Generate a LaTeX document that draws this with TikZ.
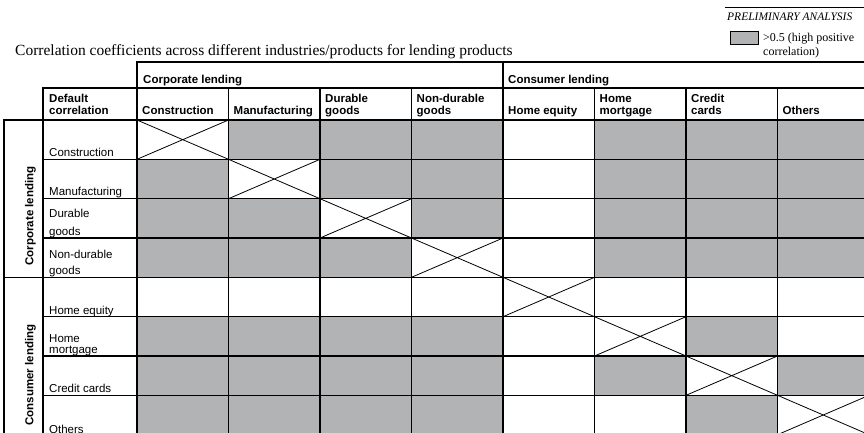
\documentclass[tikz,border=0pt]{standalone}
\usepackage{fontspec}
\setmainfont{Liberation Serif}
\setsansfont{Liberation Sans}
\definecolor{cellgray}{RGB}{178,179,181}

\begin{document}
\begin{tikzpicture}[x=1pt,y=1pt,
  hd/.style={font=\sffamily\bfseries\fontsize{11.5}{13}\selectfont},
  lb/.style={font=\sffamily\fontsize{11.5}{13}\selectfont},
  rule/.style={black, line width=1.4pt, line cap=rect},
  cross/.style={black, line width=0.8pt}]
\tikzstyle{every node}+=[inner sep=0pt, anchor=base west]
\clip (0,0) rectangle (864,-432);
\fill [white] (0,0) rectangle (864,-432);
% title, tracker and legend
\draw (15,-55) node [font=\fontsize{15.5}{18}\selectfont] (title) {Correlation coefficients across different industries/products for lending products};
\draw [black, line width=1pt] (725,-7) -- (864,-7);
\draw (727,-20) node [font=\itshape\fontsize{11.5}{13}\selectfont] (tracker) {PRELIMINARY ANALYSIS};
\draw [black, fill=cellgray, line width=0.8pt] (730,-31) rectangle (758,-44);
\draw (763,-41) node [font=\fontsize{12}{14}\selectfont] (leg1) {>0.5 (high positive};
\draw (763,-55) node [font=\fontsize{12}{14}\selectfont] (leg2) {correlation)};
% shaded cells
\fill [cellgray] (137,-120) rectangle (503,-277.3);
\fill [cellgray] (594.5,-120) rectangle (869,-277.3);
\fill [cellgray] (137,-316.7) rectangle (503,-434.7);
\fill [cellgray] (686,-316.7) rectangle (777.5,-356);
\fill [cellgray] (594.5,-356) rectangle (686,-395.3);
\fill [cellgray] (777.5,-356) rectangle (869,-395.3);
\fill [cellgray] (686,-395.3) rectangle (777.5,-434.7);
% crossed-out diagonal
\fill [white] (137,-120) rectangle (228.5,-159.3);
\draw [cross] (137,-120) -- (228.5,-159.3) (137,-159.3) -- (228.5,-120);
\fill [white] (228.5,-159.3) rectangle (320,-198.7);
\draw [cross] (228.5,-159.3) -- (320,-198.7) (228.5,-198.7) -- (320,-159.3);
\fill [white] (320,-198.7) rectangle (411.5,-238);
\draw [cross] (320,-198.7) -- (411.5,-238) (320,-238) -- (411.5,-198.7);
\fill [white] (411.5,-238) rectangle (503,-277.3);
\draw [cross] (411.5,-238) -- (503,-277.3) (411.5,-277.3) -- (503,-238);
\fill [white] (503,-277.3) rectangle (594.5,-316.7);
\draw [cross] (503,-277.3) -- (594.5,-316.7) (503,-316.7) -- (594.5,-277.3);
\fill [white] (594.5,-316.7) rectangle (686,-356);
\draw [cross] (594.5,-316.7) -- (686,-356) (594.5,-356) -- (686,-316.7);
\fill [white] (686,-356) rectangle (777.5,-395.3);
\draw [cross] (686,-356) -- (777.5,-395.3) (686,-395.3) -- (777.5,-356);
\fill [white] (777.5,-395.3) rectangle (869,-434.7);
\draw [cross] (777.5,-395.3) -- (869,-434.7) (777.5,-434.7) -- (869,-395.3);
% grid
\draw [rule] (137,-62) -- (869,-62);
\draw [rule] (43,-88) -- (869,-88);
\draw [rule] (4,-120) -- (869,-120);
\draw [rule] (43,-159.3) -- (869,-159.3);
\draw [rule] (43,-198.7) -- (869,-198.7);
\draw [rule] (43,-238) -- (869,-238);
\draw [rule] (4,-277.3) -- (869,-277.3);
\draw [rule] (43,-316.7) -- (869,-316.7);
\draw [rule] (43,-356) -- (869,-356);
\draw [rule] (43,-395.3) -- (869,-395.3);
\draw [rule] (4,-120) -- (4,-440);
\draw [rule] (43,-88) -- (43,-440);
\draw [rule] (137,-62) -- (137,-440);
\draw [rule] (228.5,-88) -- (228.5,-440);
\draw [rule] (320,-88) -- (320,-440);
\draw [rule] (411.5,-88) -- (411.5,-440);
\draw [rule] (503,-62) -- (503,-440);
\draw [rule] (594.5,-88) -- (594.5,-440);
\draw [rule] (686,-88) -- (686,-440);
\draw [rule] (777.5,-88) -- (777.5,-440);
% column headers
\draw (143,-83) node [hd] (hcorp) {Corporate lending};
\draw (508,-83) node [hd] (hcons) {Consumer lending};
\draw (49,-102) node [hd] (hdef1) {Default};
\draw (49,-114) node [hd] (hdef2) {correlation};
\draw (142,-114) node [hd] (hconstr) {Construction};
\draw (233.5,-114) node [hd] (hmanuf) {Manufacturing};
\draw (325,-102) node [hd] (hdur1) {Durable};
\draw (325,-114) node [hd] (hdur2) {goods};
\draw (416.5,-102) node [hd] (hndur1) {Non-durable};
\draw (416.5,-114) node [hd] (hndur2) {goods};
\draw (508,-114) node [hd] (hequity) {Home equity};
\draw (599.5,-102) node [hd] (hmort1) {Home};
\draw (599.5,-114) node [hd] (hmort2) {mortgage};
\draw (691,-102) node [hd] (hcard1) {Credit};
\draw (691,-114) node [hd] (hcard2) {cards};
\draw (782.5,-114) node [hd] (hother) {Others};
% row headers
\draw (33.3,-216) node [hd, rotate=90, anchor=base] (rcorp) {Corporate lending};
\draw (33.3,-375) node [hd, rotate=90, anchor=base] (rcons) {Consumer lending};
\draw (49,-156) node [lb] (rconstr) {Construction};
\draw (49,-195.5) node [lb] (rmanuf) {Manufacturing};
\draw (49,-217) node [lb] (rdur1) {Durable};
\draw (49,-235) node [lb] (rdur2) {goods};
\draw (49,-258) node [lb] (rndur1) {Non-durable};
\draw (49,-274.5) node [lb] (rndur2) {goods};
\draw (49,-314) node [lb] (requity) {Home equity};
\draw (49,-342) node [lb] (rmort1) {Home};
\draw (49,-353.5) node [lb] (rmort2) {mortgage};
\draw (49,-392.5) node [lb] (rcard) {Credit cards};
\draw (49,-433.5) node [lb] (rother) {Others};
\end{tikzpicture}
\end{document}
